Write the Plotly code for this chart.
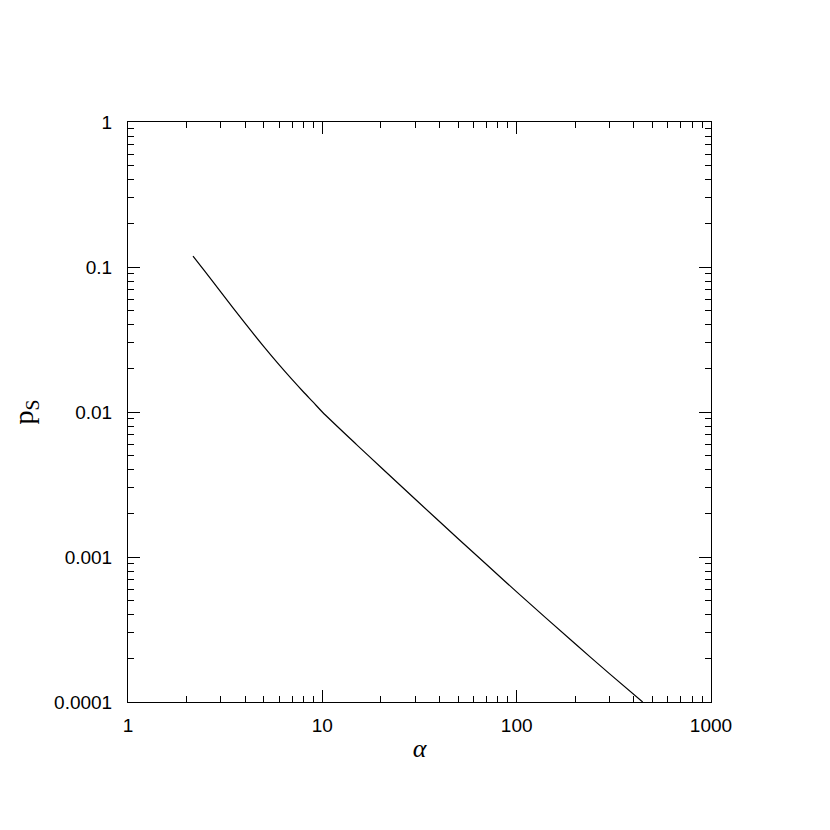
import plotly.graph_objects as go

# values
alpha = [2.16, 2.5, 3, 4, 5, 6, 7, 8, 9, 10, 15, 20, 30, 50, 70,
         100, 200, 300, 445]
p_s = [0.119, 0.0925, 0.0673, 0.0410, 0.02825, 0.02113, 0.01671, 0.01374,
       0.01164, 0.0100, 0.00596, 0.00416, 0.00251, 0.001337, 0.000887,
       0.000575, 0.000252, 0.000157, 0.0001]

x_ticks = [1, 10, 100, 1000]
x_labels = ["1", "10", "100", "1000"]
y_ticks = [0.0001, 0.001, 0.01, 0.1, 1]
y_labels = ["0.0001", "0.001", "0.01", "0.1", "1"]

fig = go.Figure()
fig.add_trace(go.Scatter(x=alpha, y=p_s, mode="lines",
                         line=dict(color="black", width=1.2, shape="spline", smoothing=0.8),
                         showlegend=False))

axis_common = dict(
    type="log", showgrid=False, zeroline=False, automargin=False,
    showline=True, linecolor="black", linewidth=1, mirror="ticks",
    ticks="inside", ticklen=12, tickwidth=1, tickcolor="black",
    minor=dict(ticks="inside", ticklen=6, tickwidth=1, tickcolor="black",
               dtick="D1", showgrid=False),
    tickfont=dict(family="Liberation Sans", size=19, color="black"),
)

fig.update_xaxes(**axis_common, range=[0, 3], tickvals=x_ticks, ticktext=x_labels,
                 ticklabelstandoff=6,
                 title=dict(text="<i>α</i>", standoff=4,
                            font=dict(family="Liberation Serif", size=26, color="black")))
fig.update_yaxes(**axis_common, range=[-4, 0], tickvals=y_ticks, ticktext=y_labels,
                 ticklabelstandoff=11,
                 title=dict(text="p<sub>S</sub>", standoff=16,
                            font=dict(family="Liberation Serif", size=28, color="black")))

# page body adds an 8px offset, so margins are shifted by that
fig.update_layout(width=830, height=830,
                  margin=dict(l=120, r=127, t=114, b=136),
                  plot_bgcolor="white", paper_bgcolor="white")

fig.write_html("out.html")
